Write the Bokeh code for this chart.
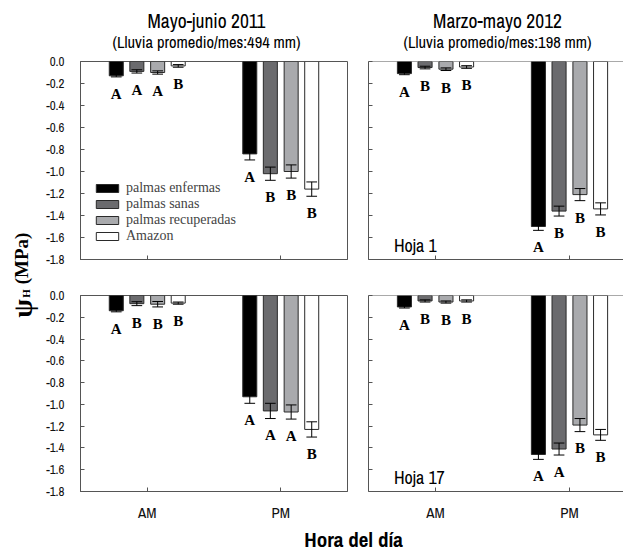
from bokeh.plotting import figure
from bokeh.layouts import row, column
from bokeh.models import Range1d, FixedTicker, Legend, LegendItem, Span
from bokeh.core.properties import value
from bokeh.embed import file_html
from bokeh.resources import INLINE

# ---------------- data ----------------
series = ["palmas enfermas", "palmas sanas", "palmas recuperadas", "Amazon"]
fill_colors = ["#000000", "#6b6b6e", "#a9aaad", "#ffffff"]
periods = ["AM", "PM"]
period_pos = [1, 2]
y_ticks = [0.0, -0.2, -0.4, -0.6, -0.8, -1.0, -1.2, -1.4, -1.6, -1.8]
y_tick_labels = ["0.0", "-0.2", "-0.4", "-0.6", "-0.8", "-1.0", "-1.2", "-1.4", "-1.6", "-1.8"]

# Mayo-junio 2011, Hoja 1
h1_2011_am = [-0.13, -0.09, -0.10, -0.04]
h1_2011_am_se = [0.01, 0.015, 0.015, 0.012]
h1_2011_pm = [-0.84, -1.02, -1.00, -1.16]
h1_2011_pm_se = [0.055, 0.06, 0.06, 0.065]
h1_2011_am_letters = ["A", "A", "A", "B"]
h1_2011_pm_letters = ["A", "B", "B", "B"]

# Marzo-mayo 2012, Hoja 1
h1_2012_am = [-0.11, -0.055, -0.07, -0.05]
h1_2012_am_se = [0.01, 0.012, 0.012, 0.012]
h1_2012_pm = [-1.50, -1.36, -1.21, -1.34]
h1_2012_pm_se = [0.035, 0.045, 0.055, 0.055]
h1_2012_am_letters = ["A", "B", "B", "B"]
h1_2012_pm_letters = ["A", "B", "B", "B"]

# Mayo-junio 2011, Hoja 17
h17_2011_am = [-0.14, -0.075, -0.08, -0.07]
h17_2011_am_se = [0.01, 0.018, 0.025, 0.01]
h17_2011_pm = [-0.93, -1.06, -1.07, -1.23]
h17_2011_pm_se = [0.06, 0.07, 0.065, 0.07]
h17_2011_am_letters = ["A", "B", "B", "B"]
h17_2011_pm_letters = ["A", "A", "A", "B"]

# Marzo-mayo 2012, Hoja 17
h17_2012_am = [-0.105, -0.05, -0.06, -0.05]
h17_2012_am_se = [0.01, 0.01, 0.01, 0.01]
h17_2012_pm = [-1.46, -1.41, -1.19, -1.28]
h17_2012_pm_se = [0.045, 0.055, 0.06, 0.05]
h17_2012_am_letters = ["A", "B", "B", "B"]
h17_2012_pm_letters = ["A", "A", "B", "B"]

titles = ["Mayo-junio 2011", "Marzo-mayo 2012"]
subtitles = ["(Lluvia promedio/mes:494 mm)", "(Lluvia promedio/mes:198 mm)"]
hoja_labels = ["Hoja 1", "Hoja 17"]
y_label_parts = ["\u03c8", "H", "(MPa)"]
x_label = "Hora del d\u00eda"

# ---------------- styling ----------------
SANS = "Archivo Narrow"
SERIF = "Liberation Serif"
FRAME = "#555555"
BAR_OFFSETS = [-0.232, -0.078, 0.078, 0.232]
BAR_W = 0.105
CAP = 0.04
LETTER_GAP = 0.155


def strip(width, height):
    s = figure(width=width, height=height, x_range=Range1d(0, width), y_range=Range1d(0, height),
               output_backend="svg", toolbar_location=None, min_border=0)
    s.axis.visible = False
    s.grid.visible = False
    s.outline_line_color = None
    return s


def make_panel(am, am_se, pm, pm_se, am_let, pm_let, left_panel, top_row,
               hoja=None, legend=False):
    if left_panel:
        width, x_end, mbl, mbr = 317, 2.5, 40, 10
    else:
        width, x_end, mbl, mbr = 266, 0.5 + 255 / 134, 11, 0
    if top_row:
        height, mbt, mbb = 225, 9, 18
    else:
        height, mbt, mbb = 248, 18, 32
    p = figure(width=width, height=height, x_range=Range1d(0.5, x_end),
               y_range=Range1d(-1.8, 0), output_backend="svg", toolbar_location=None,
               min_border_left=mbl, min_border_right=mbr, min_border_top=mbt,
               min_border_bottom=mbb, background_fill_color="white",
               border_fill_color="white")
    p.grid.visible = False
    if left_panel:
        p.outline_line_color = FRAME
        p.outline_line_width = 1
    else:
        p.outline_line_color = None
        p.add_layout(Span(location=0, dimension="width", line_color=FRAME, line_width=1))

    renderers = []
    for i in range(4):
        xs = [period_pos[0] + BAR_OFFSETS[i], period_pos[1] + BAR_OFFSETS[i]]
        means = [am[i], pm[i]]
        ses = [am_se[i], pm_se[i]]
        r = p.vbar(x=xs, top=[0, 0], bottom=means, width=BAR_W,
                   fill_color=fill_colors[i], line_color="#2a2a2a", line_width=1)
        renderers.append(r)
        up = [m + s for m, s in zip(means, ses)]
        lo = [m - s for m, s in zip(means, ses)]
        p.segment(x0=xs, x1=xs, y0=up, y1=lo, line_color="black", line_width=1)
        p.segment(x0=[x - CAP for x in xs], x1=[x + CAP for x in xs], y0=up, y1=up,
                  line_color="black", line_width=1)
        p.segment(x0=[x - CAP for x in xs], x1=[x + CAP for x in xs], y0=lo, y1=lo,
                  line_color="black", line_width=1)
        p.text(x=xs, y=[l - LETTER_GAP for l in lo], text=[am_let[i], pm_let[i]],
               text_font=value(SERIF), text_font_style="bold", text_font_size="15px",
               text_align="center", text_baseline="middle", text_color="black")

    if hoja is not None:
        p.text(x=[0.69], y=[-1.67], text=[hoja], text_font=value(SANS),
               text_font_size="18px", text_align="left", text_baseline="middle",
               text_color="black")

    if legend:
        lg = Legend(items=[LegendItem(label=s, renderers=[r]) for s, r in zip(series, renderers)],
                    location=(13, 15), orientation="vertical", glyph_width=28,
                    glyph_height=10, label_standoff=5, spacing=0, padding=0, margin=0,
                    border_line_color=None, background_fill_alpha=0,
                    label_text_font=SERIF, label_text_font_size="14px", label_height=15)
        p.add_layout(lg)

    for ax in (p.xaxis[0], p.yaxis[0]):
        ax.axis_line_color = FRAME
        ax.major_tick_line_color = FRAME
        ax.major_tick_in = 4
        ax.major_tick_out = 0
        ax.minor_tick_line_color = None
    p.yaxis.ticker = FixedTicker(ticks=y_ticks)
    p.yaxis.major_label_overrides = {t: l for t, l in zip(y_ticks, y_tick_labels)}
    p.xaxis.ticker = FixedTicker(ticks=period_pos)
    p.xaxis.major_label_overrides = {pos: lab for pos, lab in zip(period_pos, periods)}
    if left_panel:
        p.yaxis.major_label_text_font = SANS
        p.yaxis.major_label_text_font_size = "13px"
        p.yaxis.major_label_text_color = "#111111"
        p.yaxis.major_label_standoff = 16
    else:
        p.yaxis.major_label_text_font_size = "0px"
        p.yaxis.major_label_text_color = None
        p.yaxis.major_label_standoff = 0
    if top_row:
        p.xaxis.major_label_text_font_size = "0px"
        p.xaxis.major_label_text_color = None
        p.xaxis.major_label_standoff = 0
    else:
        p.xaxis.major_label_text_font = SANS
        p.xaxis.major_label_text_font_size = "15px"
        p.xaxis.major_label_text_color = "#111111"
        p.xaxis.major_label_standoff = 10
    return p


tl = make_panel(h1_2011_am, h1_2011_am_se, h1_2011_pm, h1_2011_pm_se,
                h1_2011_am_letters, h1_2011_pm_letters, True, True, legend=True)
tr = make_panel(h1_2012_am, h1_2012_am_se, h1_2012_pm, h1_2012_pm_se,
                h1_2012_am_letters, h1_2012_pm_letters, False, True, hoja=hoja_labels[0])
bl = make_panel(h17_2011_am, h17_2011_am_se, h17_2011_pm, h17_2011_pm_se,
                h17_2011_am_letters, h17_2011_pm_letters, True, False)
br = make_panel(h17_2012_am, h17_2012_am_se, h17_2012_pm, h17_2012_pm_se,
                h17_2012_am_letters, h17_2012_pm_letters, False, False, hoja=hoja_labels[1])

# header with panel titles
head = strip(623, 52)
title_x = [206, 497]
head.text(x=title_x, y=[32, 32], text=titles, text_font=value(SANS), text_font_size="19.5px",
          text_align="center", text_baseline="middle", text_color="black")
head.text(x=title_x, y=[11, 11], text=subtitles, text_font=value(SANS), text_font_size="16.5px",
          text_align="center", text_baseline="middle", text_color="black")

# y-axis title strip
ylab = strip(40, 473)
ylab.text(x=[22], y=[217], text=[y_label_parts[0]], text_font=value(SERIF),
          text_font_style="bold", text_font_size="27px", angle=1.5708,
          text_align="center", text_baseline="middle", text_color="black")
ylab.text(x=[25], y=[232], text=[y_label_parts[1]], text_font=value(SERIF),
          text_font_style="bold", text_font_size="11px", angle=1.5708,
          text_align="center", text_baseline="middle", text_color="black")
ylab.text(x=[21], y=[267], text=[y_label_parts[2]], text_font=value(SERIF),
          text_font_style="bold", text_font_size="19px", angle=1.5708,
          text_align="center", text_baseline="middle", text_color="black")

# x-axis title strip
foot = strip(623, 27)
foot.text(x=[353], y=[13.5], text=[x_label], text_font=value(SANS), text_font_style="bold",
          text_font_size="21px", text_align="center", text_baseline="middle",
          text_color="black")

layout = column(head, row(ylab, column(row(tl, tr), row(bl, br))), foot)
open("out.html", "w").write(file_html(layout, INLINE))
